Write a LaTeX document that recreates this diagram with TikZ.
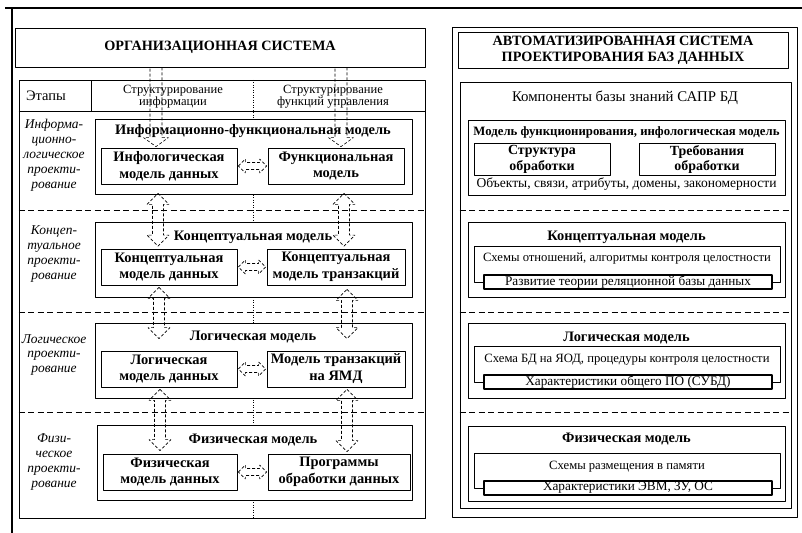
\documentclass[tikz,border=0pt]{standalone}
\usepackage{fontspec}
\setmainfont{Liberation Serif}
\usetikzlibrary{calc}

\begin{document}
\begin{tikzpicture}[line join=bevel,
  box/.style={draw,line width=0.8bp,fill=white,inner sep=0pt},
  big_box/.style={box,minimum width=317bp,minimum height=75bp},
  in_box/.style={box,minimum width=136bp,minimum height=36bp,align=center,font=\bfseries\fontsize{14.5}{17}\selectfont},
  sub_box/.style={box,minimum width=136bp,minimum height=32bp,align=center,font=\bfseries\fontsize{14}{15.5}\selectfont},
  sec_box/.style={box,minimum width=317bp,minimum height=75bp},
  thin_box/.style={box,minimum width=306bp,minimum height=36bp},
  base_box/.style={box,line width=1.6bp,minimum width=288bp,minimum height=14bp,font=\fontsize{13.3}{14}\selectfont},
  big_title/.style={font=\bfseries\fontsize{14.3}{16}\selectfont,align=center},
  model_title/.style={font=\bfseries\fontsize{14.5}{16}\selectfont},
  plain/.style={font=\fontsize{12.7}{15}\selectfont},
  stage/.style={align=center,font=\itshape\fontsize{13.5}{15}\selectfont},
  head/.style={align=center,font=\fontsize{12.6}{11.5}\selectfont},
  sep_line/.style={line width=0.8bp,dash pattern=on 6bp off 3.5bp},
  col_line/.style={line width=0.5bp,dash pattern=on 1bp off 1.5bp},
  dbl_arrow/.style n args={3}{line width=0.6bp,dash pattern=on 3bp off 2bp,to path={
    let \p1=(\tikztostart), \p2=(\tikztotarget), \n1={atan2(\y2-\y1,\x2-\x1)} in
    (\p1) -- ($(\p1)+(\n1:#1)+(\n1+90:#2)$) -- ($(\p1)+(\n1:#1)+(\n1+90:#3)$)
    -- ($(\p2)+(\n1:-#1)+(\n1+90:#3)$) -- ($(\p2)+(\n1:-#1)+(\n1+90:#2)$)
    -- (\p2) -- ($(\p2)+(\n1:-#1)+(\n1-90:#2)$) -- ($(\p2)+(\n1:-#1)+(\n1-90:#3)$)
    -- ($(\p1)+(\n1:#1)+(\n1-90:#3)$) -- ($(\p1)+(\n1:#1)+(\n1-90:#2)$) -- cycle}},
  one_arrow/.style n args={3}{line width=0.6bp,dash pattern=on 3bp off 2bp,to path={
    let \p1=(\tikztostart), \p2=(\tikztotarget), \n1={atan2(\y2-\y1,\x2-\x1)} in
    ($(\p1)+(\n1+90:#3)$) -- ($(\p2)+(\n1:-#1)+(\n1+90:#3)$) -- ($(\p2)+(\n1:-#1)+(\n1+90:#2)$)
    -- (\p2) -- ($(\p2)+(\n1:-#1)+(\n1-90:#2)$) -- ($(\p2)+(\n1:-#1)+(\n1-90:#3)$)
    -- ($(\p1)+(\n1-90:#3)$)}},
  big_arrow/.style={dbl_arrow={11bp}{11bp}{5.5bp}},
  small_arrow/.style={dbl_arrow={7bp}{7bp}{3.5bp}},
  down_arrow/.style={one_arrow={9bp}{12.5bp}{6bp}},
]
\useasboundingbox (0bp,0bp) rectangle (802bp,533bp);
%%
\draw [line width=1.2bp] (5bp,525bp) -- (802bp,525bp);
\draw [line width=1.2bp] (12bp,525bp) -- (12bp,0bp);
%% left part
\node (org_sys) at (220bp,485.5bp) [box,minimum width=410bp,minimum height=39bp,big_title] {ОРГАНИЗАЦИОННАЯ СИСТЕМА};
\node (stages) at (222bp,234bp) [box,minimum width=406bp,minimum height=438bp] {};
\draw [line width=0.8bp] (stages.west |- 0bp,422bp) -- (stages.east |- 0bp,422bp);
\draw [line width=0.8bp] (91bp,422bp) -- (91bp,453bp);
\draw [col_line] (253bp,453bp) -- (253bp,15bp);
\draw [sep_line] (stages.west |- 0bp,323bp) -- (stages.east |- 0bp,323bp);
\draw [sep_line] (stages.west |- 0bp,221bp) -- (stages.east |- 0bp,221bp);
\draw [sep_line] (stages.west |- 0bp,121bp) -- (stages.east |- 0bp,121bp);
\node (stage_head) at (46bp,437bp) [font=\fontsize{14.5}{15}\selectfont] {Этапы};
\node (info_head) at (173bp,436.5bp) [head] {Структурирование\\информации};
\node (func_head) at (333bp,436.5bp) [head] {Структурирование\\функций управления};
\node (stage_1) at (54bp,378bp) [stage] {Информа-\\ционно-\\логическое\\проекти-\\рование};
\node (stage_2) at (54bp,279bp) [stage] {Концеп-\\туальное\\проекти-\\рование};
\node (stage_3) at (54bp,178bp) [stage] {Логическое\\проекти-\\рование};
\node (stage_4) at (54bp,71bp) [stage] {Физи-\\ческое\\проекти-\\рование};
%
\node (model_1) at (253.5bp,376bp) [big_box] {};
\node (model_2) at (253.5bp,273.5bp) [big_box] {};
\node (model_3) at (253.5bp,172.5bp) [big_box] {};
\node (model_4) at (254.5bp,70.5bp) [big_box,minimum width=315bp] {};
\node (model_1_t) at (253bp,402bp) [model_title] {Информационно-функциональная модель};
\node (model_2_t) at (253bp,296bp) [model_title] {Концептуальная модель};
\node (model_3_t) at (253bp,196bp) [model_title] {Логическая модель};
\node (model_4_t) at (253bp,93bp) [model_title] {Физическая модель};
\node (info_data) at (169bp,367bp) [in_box] {Инфологическая\\модель данных};
\node (func_model) at (336bp,367bp) [in_box] {Функциональная\\модель};
\node (conc_data) at (169bp,266bp) [in_box] {Концептуальная\\модель данных};
\node (conc_trans) at (336bp,266bp) [in_box,minimum width=138bp] {Концептуальная\\модель транзакций};
\node (log_data) at (169bp,164bp) [in_box] {Логическая\\модель данных};
\node (log_trans) at (336bp,164bp) [in_box,minimum width=138bp] {Модель транзакций\\на ЯМД};
\node (phys_data) at (170bp,61bp) [in_box,minimum width=134bp] {Физическая\\модель данных};
\node (phys_prog) at (339bp,61bp) [in_box,minimum width=142bp] {Программы\\обработки данных};
%
\draw [down_arrow] ($(info_data.north |- org_sys.south)+(-13bp,0)$) to ($(info_data.north)+(-13bp,1bp)$);
\draw [down_arrow] ($(func_model.north |- org_sys.south)+(5bp,0)$) to ($(func_model.north)+(5bp,1bp)$);
\draw [big_arrow] ($(info_data.south)+(-11bp,-9bp)$) to ($(conc_data.north)+(-11bp,2.5bp)$);
\draw [big_arrow] ($(func_model.south)+(8bp,-9bp)$) to ($(conc_trans.north)+(8bp,2.5bp)$);
\draw [big_arrow] ($(conc_data.south)+(-10bp,-2bp)$) to ($(log_data.north)+(-10bp,12bp)$);
\draw [big_arrow] ($(conc_trans.south)+(11bp,-4bp)$) to ($(log_trans.north)+(11bp,12bp)$);
\draw [big_arrow] ($(log_data.south)+(-9bp,-2bp)$) to ($(phys_data.north)+(-10bp,3bp)$);
\draw [big_arrow] ($(log_trans.south)+(11bp,-2bp)$) to ($(phys_prog.north)+(8bp,2bp)$);
\draw [small_arrow] ($(info_data.east)+(1bp,0)$) to ($(func_model.west)+(-1bp,0)$);
\draw [small_arrow] ($(conc_data.east)+(1bp,0)$) to ($(conc_trans.west)+(-1bp,0)$);
\draw [small_arrow] ($(log_data.east)+(1bp,0)$) to ($(log_trans.west)+(-1bp,0)$);
\draw [small_arrow] ($(phys_data.east)+(1bp,0)$) to ($(phys_prog.west)+(-1bp,0)$);
%% right part
\node (cad) at (624.5bp,261bp) [box,minimum width=345bp,minimum height=490bp] {};
\node (cad_t) at (623bp,483bp) [box,minimum width=330bp,minimum height=36bp,big_title] {АВТОМАТИЗИРОВАННАЯ СИСТЕМА\\ПРОЕКТИРОВАНИЯ БАЗ ДАННЫХ};
\node (kb) at (625.5bp,238bp) [box,minimum width=331bp,minimum height=426bp] {};
\node (kb_t) at (625bp,435bp) [font=\fontsize{14.9}{16}\selectfont] {Компоненты базы знаний САПР БД};
\draw [sep_line] (kb.west |- 0bp,323bp) -- (kb.east |- 0bp,323bp);
\draw [sep_line] (kb.west |- 0bp,221bp) -- (kb.east |- 0bp,221bp);
\draw [sep_line] (kb.west |- 0bp,121bp) -- (kb.east |- 0bp,121bp);
%
\node (fm) at (626.5bp,375.5bp) [sec_box] {};
\node (fm_t) at (626.5bp,401bp) [font=\bfseries\fontsize{12.8}{15}\selectfont] {Модель функционирования, инфологическая модель};
\node (proc_struct) at (542bp,373.5bp) [sub_box] {Структура\\обработки};
\node (proc_req) at (707bp,373.5bp) [sub_box] {Требования\\обработки};
\node (fm_c) at (626.5bp,349bp) [font=\fontsize{13.6}{15}\selectfont] {Объекты, связи, атрибуты, домены, закономерности};
%
\node (cm) at (626.5bp,273.5bp) [sec_box] {};
\node (cm_t) at (626.5bp,296bp) [model_title] {Концептуальная модель};
\node (cm_in) at (627bp,269bp) [thin_box] {};
\node (cm_c) at (627bp,274bp) [plain] {Схемы отношений, алгоритмы контроля целостности};
\node (cm_base) at (628bp,251bp) [base_box] {Развитие теории реляционной базы данных};
%
\node (lm) at (626.5bp,172.5bp) [sec_box] {};
\node (lm_t) at (626.5bp,195bp) [model_title] {Логическая модель};
\node (lm_in) at (627bp,169bp) [thin_box] {};
\node (lm_c) at (627bp,173bp) [plain] {Схема БД на ЯОД, процедуры контроля целостности};
\node (lm_base) at (628bp,151bp) [base_box] {Характеристики общего ПО (СУБД)};
%
\node (pm) at (626.5bp,69.5bp) [sec_box] {};
\node (pm_t) at (626.5bp,94bp) [model_title] {Физическая модель};
\node (pm_in) at (627bp,62.5bp) [thin_box,minimum height=35bp] {};
\node (pm_c) at (627bp,66bp) [plain] {Схемы размещения в памяти};
\node (pm_base) at (628bp,45bp) [base_box] {Характеристики ЭВМ, ЗУ, ОС};
%
\end{tikzpicture}
\end{document}
